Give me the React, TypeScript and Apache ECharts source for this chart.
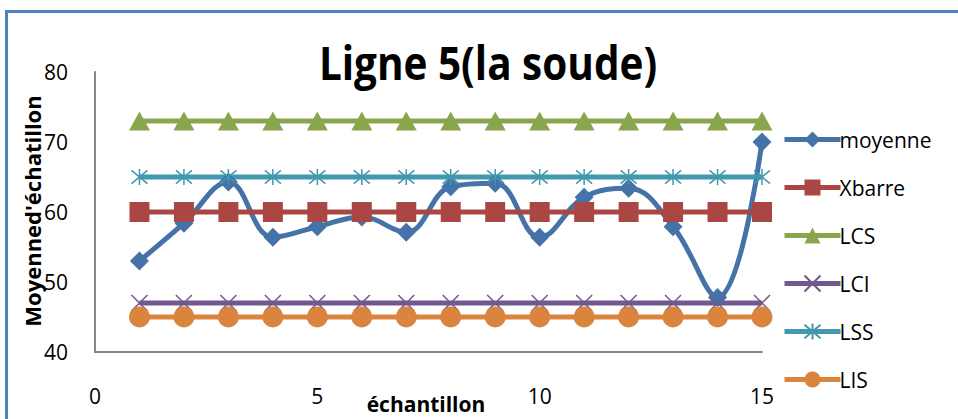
import React, { useEffect, useRef } from "react";
import * as echarts from "echarts";

const samples = [1, 2, 3, 4, 5, 6, 7, 8, 9, 10, 11, 12, 13, 14, 15];
const moyenne = [53, 58.4, 64.3, 56.4, 57.9, 59.3, 57.1, 63.6, 64.1, 56.4, 62.1, 63.4, 57.9, 47.8, 70];
const xbarre = [60, 60, 60, 60, 60, 60, 60, 60, 60, 60, 60, 60, 60, 60, 60];
const lcs = [73, 73, 73, 73, 73, 73, 73, 73, 73, 73, 73, 73, 73, 73, 73];
const lci = [47, 47, 47, 47, 47, 47, 47, 47, 47, 47, 47, 47, 47, 47, 47];
const lss = [65, 65, 65, 65, 65, 65, 65, 65, 65, 65, 65, 65, 65, 65, 65];
const lis = [45, 45, 45, 45, 45, 45, 45, 45, 45, 45, 45, 45, 45, 45, 45];
const seriesNames = ["moyenne", "Xbarre", "LCS", "LCI", "LSS", "LIS"];
const title = "Ligne 5(la soude)";
const xTitle = "échantillon";
const yTitle = "Moyenned'échatillon";

const FONT = "'Open Sans', sans-serif";

const pair = (ys: number[]) => samples.map((x, i) => [x, ys[i]]);

export default function App() {
  const ref = useRef<HTMLDivElement>(null);
  useEffect(() => {
    if (!ref.current) return;
    const chart = echarts.init(ref.current, undefined, { renderer: "svg" });
    const colors = ["#4572A7", "#AA4643", "#89A54E", "#71588F", "#4198AF", "#DB843D"];
    const crossPath = "path://M0 0 L10 10 M10 0 L0 10";
    const starPath = "path://M0 0 L10 10 M10 0 L0 10 M5 -1 L5 11";
    const mk = (
      name: string,
      data: number[],
      color: string,
      symbol: string,
      symbolSize: number | number[],
      extra: any = {}
    ) => ({
      name,
      type: "line",
      data: pair(data),
      symbol,
      symbolSize,
      showSymbol: true,
      lineStyle: { color, width: 5 },
      itemStyle: { color, borderColor: color, borderWidth: extra.bw ?? 0 },
      smooth: extra.smooth ?? false,
    });
    chart.setOption({
      animation: false,
      color: colors,
      legend: {
        orient: "vertical",
        left: 777,
        top: 124,
        itemWidth: 56,
        itemHeight: 20,
        itemGap: 27,
        data: seriesNames,
        lineStyle: { width: 5 },
        textStyle: { fontFamily: FONT, fontSize: 21, color: "#000", padding: [0, 0, 0, -6] },
      },
      grid: { left: 95, right: 196, top: 72, bottom: 67 },
      xAxis: {
        type: "value",
        min: 0,
        max: 15,
        interval: 5,
        axisLine: { show: true, lineStyle: { color: "#868686", width: 2 } },
        axisTick: { show: false },
        splitLine: { show: false },
        axisLabel: { fontFamily: FONT, fontSize: 21, color: "#000", margin: 33 },
      },
      yAxis: {
        type: "value",
        min: 40,
        max: 80,
        interval: 10,
        axisLine: { show: true, lineStyle: { color: "#868686", width: 2 } },
        axisTick: { show: false },
        splitLine: { show: false },
        axisLabel: { fontFamily: FONT, fontSize: 21, color: "#000", margin: 27 },
      },
      graphic: [
        {
          type: "rect",
          shape: { x: 6.5, y: 11.5, width: 1000, height: 500 },
          style: { fill: "none", stroke: "#4F81BD", lineWidth: 3 },
          silent: true,
        },
        {
          type: "text",
          x: 488,
          y: 62,
          scaleX: 0.88,
          style: {
            text: title,
            fontFamily: FONT,
            fontSize: 46,
            fontWeight: "bold",
            fill: "#000",
            align: "center",
            verticalAlign: "middle",
          },
        },
        {
          type: "text",
          x: 32,
          y: 211,
          rotation: Math.PI / 2,
          style: {
            text: yTitle,
            fontFamily: FONT,
            fontSize: 22,
            fontWeight: "bold",
            fill: "#000",
            align: "center",
            verticalAlign: "middle",
          },
        },
        {
          type: "text",
          x: 426,
          y: 404,
          style: {
            text: xTitle,
            fontFamily: FONT,
            fontSize: 21,
            fontWeight: "bold",
            fill: "#000",
            align: "center",
            verticalAlign: "middle",
          },
        },
      ],
      series: [
        mk("moyenne", moyenne, colors[0], "diamond", 19, { smooth: 0.4 }),
        mk("Xbarre", xbarre, colors[1], "rect", 20),
        mk("LCS", lcs, colors[2], "triangle", [21, 19]),
        mk("LCI", lci, colors[3], crossPath, 16, { bw: 1.5 }),
        mk("LSS", lss, colors[4], starPath, 16, { bw: 1.5 }),
        mk("LIS", lis, colors[5], "circle", 21),
      ],
    });
    return () => chart.dispose();
  }, []);
  return (
    <div
      ref={ref}
      style={{ position: "fixed", left: 0, top: 0, width: 958, height: 419, background: "#fff" }}
    />
  );
}
